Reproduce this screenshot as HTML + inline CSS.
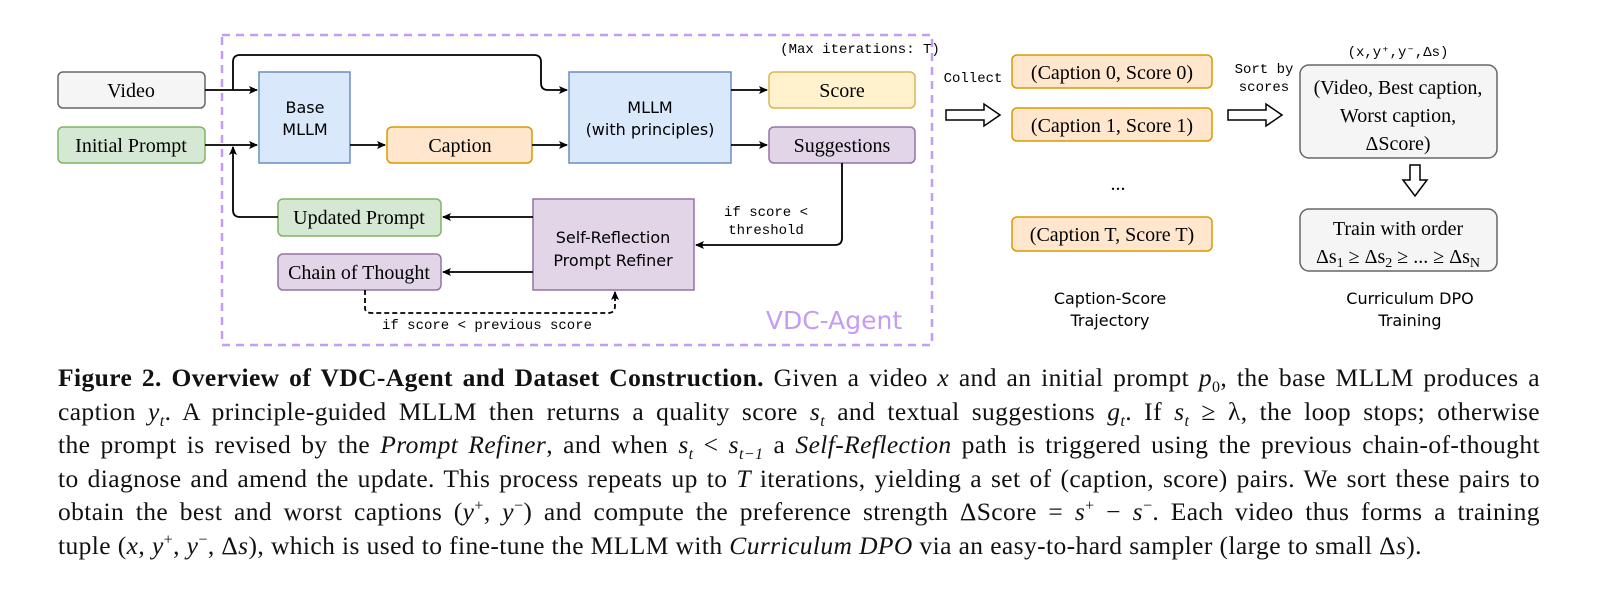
<!DOCTYPE html>
<html><head><meta charset="utf-8"><style>
body{margin:0;background:#fff;width:1597px;height:597px;overflow:hidden;position:relative}
svg{position:absolute;left:0;top:0}
.cap{position:absolute;left:58px;width:1482px;font-family:"Liberation Serif",serif;font-size:25.5px;letter-spacing:0.4px;color:#111;white-space:nowrap;text-align:justify;text-align-last:justify;line-height:28px;height:28px}
.cap.last{text-align-last:left}
.cap sub,.cap sup{font-size:16px;line-height:0}
i{font-style:italic}
</style></head><body>
<svg width="1597" height="597" viewBox="0 0 1597 597">
<defs><marker id="a" markerWidth="10" markerHeight="10" refX="8" refY="5" orient="auto" markerUnits="userSpaceOnUse"><path d="M0,1 L9,5 L0,9 L2,5 Z" fill="#000"/></marker></defs>
<rect x="222" y="35" width="710" height="310" fill="none" stroke="#c39cf5" stroke-width="2.5" stroke-dasharray="8,6"/>
<g font-family="Liberation Serif,serif" font-size="20" text-anchor="middle" stroke-width="1.5">
<rect x="58" y="72" width="147" height="36" rx="5" fill="#f5f5f5" stroke="#666"/><text x="131" y="97">Video</text>
<rect x="58" y="127" width="147" height="36" rx="5" fill="#d5e8d4" stroke="#82b366"/><text x="131" y="152">Initial Prompt</text>
<rect x="259" y="72" width="91" height="91" fill="#dae8fc" stroke="#6c8ebf"/>
<rect x="387" y="127" width="145" height="36" rx="5" fill="#ffe6cc" stroke="#d79b00"/><text x="460" y="152">Caption</text>
<rect x="569" y="72" width="162" height="91" fill="#dae8fc" stroke="#6c8ebf"/>
<rect x="769" y="72" width="146" height="36" rx="5" fill="#fff2cc" stroke="#d6b656"/><text x="842" y="97">Score</text>
<rect x="769" y="127" width="146" height="36" rx="5" fill="#e1d5e7" stroke="#9673a6"/><text x="842" y="152">Suggestions</text>
<rect x="278" y="199" width="163" height="37" rx="5" fill="#d5e8d4" stroke="#82b366"/><text x="359" y="224">Updated Prompt</text>
<rect x="278" y="254" width="163" height="36" rx="5" fill="#e1d5e7" stroke="#9673a6"/><text x="359" y="279">Chain of Thought</text>
<rect x="533" y="199" width="161" height="91" fill="#e1d5e7" stroke="#9673a6"/>
<rect x="1012" y="55" width="200" height="33" rx="5" fill="#ffe6cc" stroke="#d79b00"/><text x="1112" y="79">(Caption 0, Score 0)</text>
<rect x="1012" y="108" width="200" height="33" rx="5" fill="#ffe6cc" stroke="#d79b00"/><text x="1112" y="132">(Caption 1, Score 1)</text>
<text x="1118" y="190">...</text>
<rect x="1012" y="217" width="200" height="34" rx="5" fill="#ffe6cc" stroke="#d79b00"/><text x="1112" y="241">(Caption T, Score T)</text>
<rect x="1300" y="65" width="197" height="93" rx="9" fill="#f5f5f5" stroke="#666"/>
<text x="1398" y="94">(Video, Best caption,</text><text x="1398" y="122">Worst caption,</text><text x="1398" y="150">ΔScore)</text>
<rect x="1300" y="209" width="197" height="62" rx="9" fill="#f5f5f5" stroke="#666"/>
<text x="1398" y="235">Train with order</text>
<text x="1398" y="263">Δs<tspan font-size="14" dy="4">1</tspan><tspan dy="-4"> ≥ Δs</tspan><tspan font-size="14" dy="4">2</tspan><tspan dy="-4"> ≥ ... ≥ Δs</tspan><tspan font-size="14" dy="4">N</tspan></text>
</g>
<g font-family="DejaVu Sans,sans-serif" font-size="16" text-anchor="middle">
<text x="305" y="113">Base</text><text x="305" y="135">MLLM</text>
<text x="650" y="113">MLLM</text><text x="650" y="135">(with principles)</text>
<text x="613" y="243">Self-Reflection</text><text x="613" y="266">Prompt Refiner</text>
<text x="1110" y="304">Caption-Score</text><text x="1110" y="326">Trajectory</text>
<text x="1410" y="304">Curriculum DPO</text><text x="1410" y="326">Training</text>
<text x="834" y="329" font-size="25" fill="#c39cf5">VDC-Agent</text>
</g>
<g font-family="Liberation Mono,monospace" font-size="14" text-anchor="middle">
<text x="860" y="53">(Max iterations: T)</text>
<text x="766" y="216">if score &lt;</text><text x="766" y="234">threshold</text>
<text x="487" y="329">if score &lt; previous score</text>
<text x="973" y="82">Collect</text>
<text x="1264" y="73">Sort by</text><text x="1264" y="91">scores</text>
<text x="1398" y="56">(x,y⁺,y⁻,Δs)</text>
</g>
<g fill="none" stroke="#000" stroke-width="1.8">
<path d="M205,90 H257" marker-end="url(#a)"/>
<path d="M233,90 V62 Q233,55 240,55 H534 Q541,55 541,62 V83 Q541,90 548,90 H567" marker-end="url(#a)"/>
<path d="M205,145 H257" marker-end="url(#a)"/>
<path d="M278,217 H240 Q233,217 233,210 V147" marker-end="url(#a)"/>
<path d="M350,145 H385" marker-end="url(#a)"/>
<path d="M532,145 H567" marker-end="url(#a)"/>
<path d="M731,90 H767" marker-end="url(#a)"/>
<path d="M731,145 H767" marker-end="url(#a)"/>
<path d="M842,163 V238 Q842,245 835,245 H696" marker-end="url(#a)"/>
<path d="M533,217 H443" marker-end="url(#a)"/>
<path d="M533,272 H443" marker-end="url(#a)"/>
<path d="M365,290 V308 Q365,313 372,313 H608 Q615,313 615,306 V292" stroke-dasharray="5,3" marker-end="url(#a)"/>
<path d="M946,110 H984 V104 L1000,115 L984,126 V120 H946 Z" stroke-width="1.5"/>
<path d="M1228,110 H1266 V104 L1282,115 L1266,126 V120 H1228 Z" stroke-width="1.5"/>
<path d="M1410,165 V180 H1403 L1415,196 L1427,180 H1420 V165 Z" stroke-width="1.5"/>
</g>
</svg>
<div class="cap" style="top:364px"><b>Figure 2.</b> <b>Overview of VDC-Agent and Dataset Construction.</b> Given a video <i>x</i> and an initial prompt <i>p</i><sub>0</sub>, the base MLLM produces a</div>
<div class="cap" style="top:398px">caption <i>y<sub>t</sub></i>. A principle-guided MLLM then returns a quality score <i>s<sub>t</sub></i> and textual suggestions <i>g<sub>t</sub></i>. If <i>s<sub>t</sub></i> ≥ λ, the loop stops; otherwise</div>
<div class="cap" style="top:431px">the prompt is revised by the <i>Prompt Refiner</i>, and when <i>s<sub>t</sub></i> &lt; <i>s<sub>t−1</sub></i> a <i>Self-Reflection</i> path is triggered using the previous chain-of-thought</div>
<div class="cap" style="top:465px">to diagnose and amend the update. This process repeats up to <i>T</i> iterations, yielding a set of (caption, score) pairs. We sort these pairs to</div>
<div class="cap" style="top:498px">obtain the best and worst captions (<i>y</i><sup>+</sup>, <i>y</i><sup>−</sup>) and compute the preference strength ΔScore = <i>s</i><sup>+</sup> − <i>s</i><sup>−</sup>. Each video thus forms a training</div>
<div class="cap last" style="top:532px">tuple (<i>x</i>, <i>y</i><sup>+</sup>, <i>y</i><sup>−</sup>, Δ<i>s</i>), which is used to fine-tune the MLLM with <i>Curriculum DPO</i> via an easy-to-hard sampler (large to small Δ<i>s</i>).</div>
</body></html>
